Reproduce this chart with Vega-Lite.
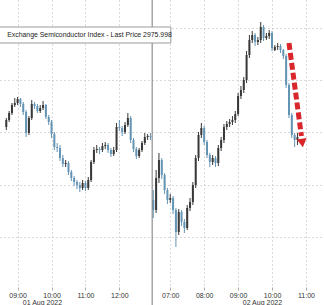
{
  "$schema": "https://vega.github.io/schema/vega-lite/v6.json",
  "width": 324,
  "height": 287,
  "autosize": {"type": "none"},
  "padding": {"left": 0, "top": 0, "right": 0, "bottom": 18},
  "background": "white",
  "config": {"view": {"stroke": null}, "font": "Liberation Sans"},
  "datasets": {
    "candles": [
      {"m": -20, "o": 2986, "h": 2995, "l": 2983, "c": 2993},
      {"m": -15, "o": 2993, "h": 3002, "l": 2991, "c": 3000},
      {"m": -10, "o": 3000, "h": 3010, "l": 2998, "c": 3008},
      {"m": -5, "o": 3008, "h": 3015, "l": 3006, "c": 3010},
      {"m": 0, "o": 3010, "h": 3016, "l": 3008, "c": 3014},
      {"m": 5, "o": 3014, "h": 3015, "l": 3006, "c": 3009},
      {"m": 10, "o": 3009, "h": 3011, "l": 2998, "c": 3001},
      {"m": 15, "o": 3001, "h": 3003, "l": 2976, "c": 2980},
      {"m": 20, "o": 2980, "h": 2997, "l": 2978, "c": 2995},
      {"m": 25, "o": 2995, "h": 3013, "l": 2993, "c": 3009},
      {"m": 30, "o": 3009, "h": 3011, "l": 3004, "c": 3007},
      {"m": 35, "o": 3007, "h": 3009, "l": 3000, "c": 3002},
      {"m": 40, "o": 3002, "h": 3008, "l": 3000, "c": 3005},
      {"m": 45, "o": 3005, "h": 3012, "l": 3003, "c": 3008},
      {"m": 50, "o": 3008, "h": 3009, "l": 2994, "c": 2996},
      {"m": 55, "o": 2996, "h": 2998, "l": 2988, "c": 2991},
      {"m": 60, "o": 2991, "h": 2993, "l": 2975, "c": 2979},
      {"m": 65, "o": 2979, "h": 2981, "l": 2963, "c": 2966},
      {"m": 70, "o": 2966, "h": 2970, "l": 2961, "c": 2965},
      {"m": 75, "o": 2965, "h": 2968, "l": 2952, "c": 2955},
      {"m": 80, "o": 2955, "h": 2958, "l": 2946, "c": 2949},
      {"m": 85, "o": 2949, "h": 2953, "l": 2946, "c": 2950},
      {"m": 90, "o": 2950, "h": 2952, "l": 2938, "c": 2941},
      {"m": 95, "o": 2941, "h": 2943, "l": 2932, "c": 2935},
      {"m": 100, "o": 2935, "h": 2937, "l": 2927, "c": 2931},
      {"m": 105, "o": 2931, "h": 2933, "l": 2924, "c": 2928},
      {"m": 110, "o": 2928, "h": 2931, "l": 2921, "c": 2925},
      {"m": 115, "o": 2925, "h": 2933, "l": 2923, "c": 2930},
      {"m": 120, "o": 2930, "h": 2932, "l": 2922, "c": 2925},
      {"m": 125, "o": 2925, "h": 2936, "l": 2923, "c": 2933},
      {"m": 130, "o": 2933, "h": 2953, "l": 2931, "c": 2951},
      {"m": 135, "o": 2951, "h": 2966, "l": 2949, "c": 2963},
      {"m": 140, "o": 2963, "h": 2968, "l": 2960, "c": 2964},
      {"m": 145, "o": 2964, "h": 2966, "l": 2959, "c": 2963},
      {"m": 150, "o": 2963, "h": 2970, "l": 2961, "c": 2967},
      {"m": 155, "o": 2967, "h": 2971, "l": 2964, "c": 2968},
      {"m": 160, "o": 2968, "h": 2970, "l": 2960, "c": 2963},
      {"m": 165, "o": 2963, "h": 2965, "l": 2956, "c": 2959},
      {"m": 170, "o": 2959, "h": 2966, "l": 2957, "c": 2963},
      {"m": 175, "o": 2963, "h": 2990, "l": 2961, "c": 2986},
      {"m": 180, "o": 2986, "h": 2993, "l": 2982, "c": 2985},
      {"m": 185, "o": 2985, "h": 2987, "l": 2977, "c": 2981},
      {"m": 190, "o": 2981, "h": 2991, "l": 2979, "c": 2988},
      {"m": 195, "o": 2988, "h": 3000, "l": 2986, "c": 2995},
      {"m": 200, "o": 2995, "h": 2997, "l": 2970, "c": 2973},
      {"m": 205, "o": 2973, "h": 2975, "l": 2961, "c": 2964},
      {"m": 210, "o": 2964, "h": 2966, "l": 2954, "c": 2957},
      {"m": 215, "o": 2957, "h": 2965, "l": 2955, "c": 2963},
      {"m": 220, "o": 2963, "h": 2972, "l": 2961, "c": 2970},
      {"m": 225, "o": 2970, "h": 2980, "l": 2968, "c": 2976},
      {"m": 230, "o": 2976, "h": 2979, "l": 2973, "c": 2977},
      {"m": 235, "o": 2977, "h": 2980, "l": 2973, "c": 2976},
      {"m": 240, "o": 2913, "h": 2923, "l": 2895, "c": 2903},
      {"m": 245, "o": 2903, "h": 2943, "l": 2900, "c": 2935},
      {"m": 250, "o": 2935, "h": 2960, "l": 2930, "c": 2953},
      {"m": 255, "o": 2953, "h": 2955, "l": 2934, "c": 2938},
      {"m": 260, "o": 2938, "h": 2940, "l": 2919, "c": 2923},
      {"m": 265, "o": 2923, "h": 2925, "l": 2909, "c": 2913},
      {"m": 270, "o": 2913, "h": 2919, "l": 2910, "c": 2915},
      {"m": 275, "o": 2915, "h": 2917, "l": 2899, "c": 2903},
      {"m": 280, "o": 2903, "h": 2905, "l": 2866, "c": 2881},
      {"m": 285, "o": 2881, "h": 2904, "l": 2878, "c": 2901},
      {"m": 290, "o": 2901, "h": 2903, "l": 2887, "c": 2891},
      {"m": 295, "o": 2891, "h": 2894, "l": 2880, "c": 2885},
      {"m": 300, "o": 2885, "h": 2908, "l": 2883, "c": 2905},
      {"m": 305, "o": 2905, "h": 2915, "l": 2902, "c": 2911},
      {"m": 310, "o": 2911, "h": 2931, "l": 2908, "c": 2928},
      {"m": 315, "o": 2928, "h": 2958, "l": 2925, "c": 2955},
      {"m": 320, "o": 2955, "h": 2981, "l": 2952, "c": 2978},
      {"m": 325, "o": 2978, "h": 2990, "l": 2975, "c": 2985},
      {"m": 330, "o": 2985, "h": 2987, "l": 2968, "c": 2971},
      {"m": 335, "o": 2971, "h": 2973, "l": 2955, "c": 2958},
      {"m": 340, "o": 2958, "h": 2960, "l": 2946, "c": 2951},
      {"m": 345, "o": 2951, "h": 2958, "l": 2948, "c": 2955},
      {"m": 350, "o": 2955, "h": 2957, "l": 2946, "c": 2950},
      {"m": 355, "o": 2950, "h": 2968, "l": 2947, "c": 2965},
      {"m": 360, "o": 2965, "h": 2976, "l": 2962, "c": 2973},
      {"m": 365, "o": 2973, "h": 2989, "l": 2970, "c": 2986},
      {"m": 370, "o": 2986, "h": 2992, "l": 2983, "c": 2989},
      {"m": 375, "o": 2989, "h": 2994, "l": 2986, "c": 2991},
      {"m": 380, "o": 2991, "h": 2997, "l": 2988, "c": 2993},
      {"m": 385, "o": 2993, "h": 3002, "l": 2990, "c": 2999},
      {"m": 390, "o": 2999, "h": 3020, "l": 2997, "c": 3017},
      {"m": 395, "o": 3017, "h": 3027, "l": 3014, "c": 3023},
      {"m": 400, "o": 3023, "h": 3036, "l": 3020, "c": 3033},
      {"m": 405, "o": 3033, "h": 3062, "l": 3030, "c": 3058},
      {"m": 410, "o": 3058, "h": 3078, "l": 3055, "c": 3073},
      {"m": 415, "o": 3073, "h": 3082, "l": 3070, "c": 3078},
      {"m": 420, "o": 3078, "h": 3080, "l": 3067, "c": 3071},
      {"m": 425, "o": 3071, "h": 3076, "l": 3068, "c": 3073},
      {"m": 430, "o": 3073, "h": 3091, "l": 3070, "c": 3086},
      {"m": 435, "o": 3086, "h": 3088, "l": 3072, "c": 3075},
      {"m": 440, "o": 3075, "h": 3080, "l": 3073, "c": 3077},
      {"m": 445, "o": 3077, "h": 3083, "l": 3074, "c": 3080},
      {"m": 450, "o": 3080, "h": 3082, "l": 3062, "c": 3065},
      {"m": 455, "o": 3063, "h": 3068, "l": 3062, "c": 3066},
      {"m": 460, "o": 3066, "h": 3070, "l": 3063, "c": 3067},
      {"m": 465, "o": 3067, "h": 3069, "l": 3060, "c": 3063},
      {"m": 470, "o": 3063, "h": 3064, "l": 3054, "c": 3057},
      {"m": 475, "o": 3057, "h": 3059, "l": 3025, "c": 3028},
      {"m": 480, "o": 3028, "h": 3030, "l": 2995, "c": 2998},
      {"m": 485, "o": 2998, "h": 3000, "l": 2975, "c": 2978},
      {"m": 490, "o": 2978, "h": 2980, "l": 2966, "c": 2973},
      {"m": 495, "o": 2973, "h": 2980, "l": 2968, "c": 2976}
    ],
    "dates": [
      {"m": 44, "p": 2810, "label": "01 Aug 2022"},
      {"m": 433, "p": 2810, "label": "02 Aug 2022"}
    ],
    "sep": [{"m": 238, "top": 3113, "bottom": 2808}],
    "box": [{"x1": -40, "x2": 271, "y1": 3086, "y2": 3070, "tx": -18.5, "ty": 3078, "label": "Exchange Semiconductor Index - Last Price 2975.998"}],
    "arrow": [{"m1": 480, "p1": 3070, "m2": 502, "p2": 2977, "hm": 503.5, "hp": 2970}]
  },
  "layer": [
    {
      "data": {"name": "candles"},
      "mark": {"type": "rule", "strokeWidth": 1},
      "encoding": {
        "x": {
          "field": "m", "type": "quantitative",
          "scale": {"domain": [-22.3, 533.1], "nice": false, "zero": false},
          "axis": {
            "values": [0, 60, 120, 180, 270, 330, 390, 450, 510],
            "labelExpr": "datum.value == 0 ? '09:00' : datum.value == 60 ? '10:00' : datum.value == 120 ? '11:00' : datum.value == 180 ? '12:00' : datum.value == 270 ? '07:00' : datum.value == 330 ? '08:00' : datum.value == 390 ? '09:00' : datum.value == 450 ? '10:00' : '11:00'",
            "title": null,
            "domain": false,
            "grid": true,
            "gridColor": "#b5b5b5",
            "gridDash": [1, 3],
            "gridWidth": 1,
            "ticks": true,
            "tickColor": "#aaaaaa",
            "tickSize": 3,
            "labelFont": "Liberation Sans",
            "labelFontSize": 7,
            "labelColor": "#333333",
            "labelPadding": 1,
            "labelFlush": false,
            "labelOverlap": false
          }
        },
        "y": {
          "field": "l", "type": "quantitative",
          "scale": {"domain": [2826, 3113], "nice": false, "zero": false},
          "axis": {
            "values": [2876, 2928, 2981, 3033, 3085],
            "title": null,
            "labels": false,
            "ticks": false,
            "domain": false,
            "grid": true,
            "gridColor": "#b5b5b5",
            "gridDash": [1, 3],
            "gridWidth": 1
          }
        },
        "y2": {"field": "h"},
        "color": {"condition": {"test": "datum.c >= datum.o", "value": "#383838"}, "value": "#6494b4"}
      }
    },
    {
      "data": {"name": "candles"},
      "mark": {"type": "bar", "size": 2},
      "encoding": {
        "x": {"field": "m", "type": "quantitative"},
        "y": {"field": "o", "type": "quantitative"},
        "y2": {"field": "c"},
        "color": {"condition": {"test": "datum.c >= datum.o", "value": "#383838"}, "value": "#6494b4"}
      }
    },
    {
      "data": {"name": "sep"},
      "mark": {"type": "rule", "color": "#7a7a7a", "strokeWidth": 1},
      "encoding": {
        "x": {"field": "m", "type": "quantitative"},
        "y": {"field": "top", "type": "quantitative"},
        "y2": {"field": "bottom"}
      }
    },
    {
      "data": {"name": "dates"},
      "mark": {"type": "text", "font": "Liberation Sans", "fontSize": 7, "color": "#333333", "baseline": "middle", "align": "center"},
      "encoding": {
        "x": {"field": "m", "type": "quantitative"},
        "y": {"field": "p", "type": "quantitative"},
        "text": {"field": "label"}
      }
    },
    {
      "data": {"name": "box"},
      "mark": {"type": "rect", "fill": "white", "stroke": "#9a9a9a", "strokeWidth": 1},
      "encoding": {
        "x": {"field": "x1", "type": "quantitative"},
        "x2": {"field": "x2"},
        "y": {"field": "y1", "type": "quantitative"},
        "y2": {"field": "y2"}
      }
    },
    {
      "data": {"name": "box"},
      "mark": {"type": "text", "font": "Liberation Sans", "fontSize": 6.9, "color": "#222222", "baseline": "middle", "align": "left"},
      "encoding": {
        "x": {"field": "tx", "type": "quantitative"},
        "y": {"field": "ty", "type": "quantitative"},
        "text": {"field": "label"}
      }
    },
    {
      "data": {"name": "arrow"},
      "mark": {"type": "rule", "color": "#d9262b", "strokeWidth": 5, "strokeDash": [7, 3]},
      "encoding": {
        "x": {"field": "m1", "type": "quantitative"},
        "y": {"field": "p1", "type": "quantitative"},
        "x2": {"field": "m2"},
        "y2": {"field": "p2"}
      }
    },
    {
      "data": {"name": "arrow"},
      "mark": {"type": "point", "shape": "triangle-down", "filled": true, "color": "#d9262b", "size": 100, "angle": 352, "opacity": 1},
      "encoding": {
        "x": {"field": "hm", "type": "quantitative"},
        "y": {"field": "hp", "type": "quantitative"}
      }
    }
  ]
}
